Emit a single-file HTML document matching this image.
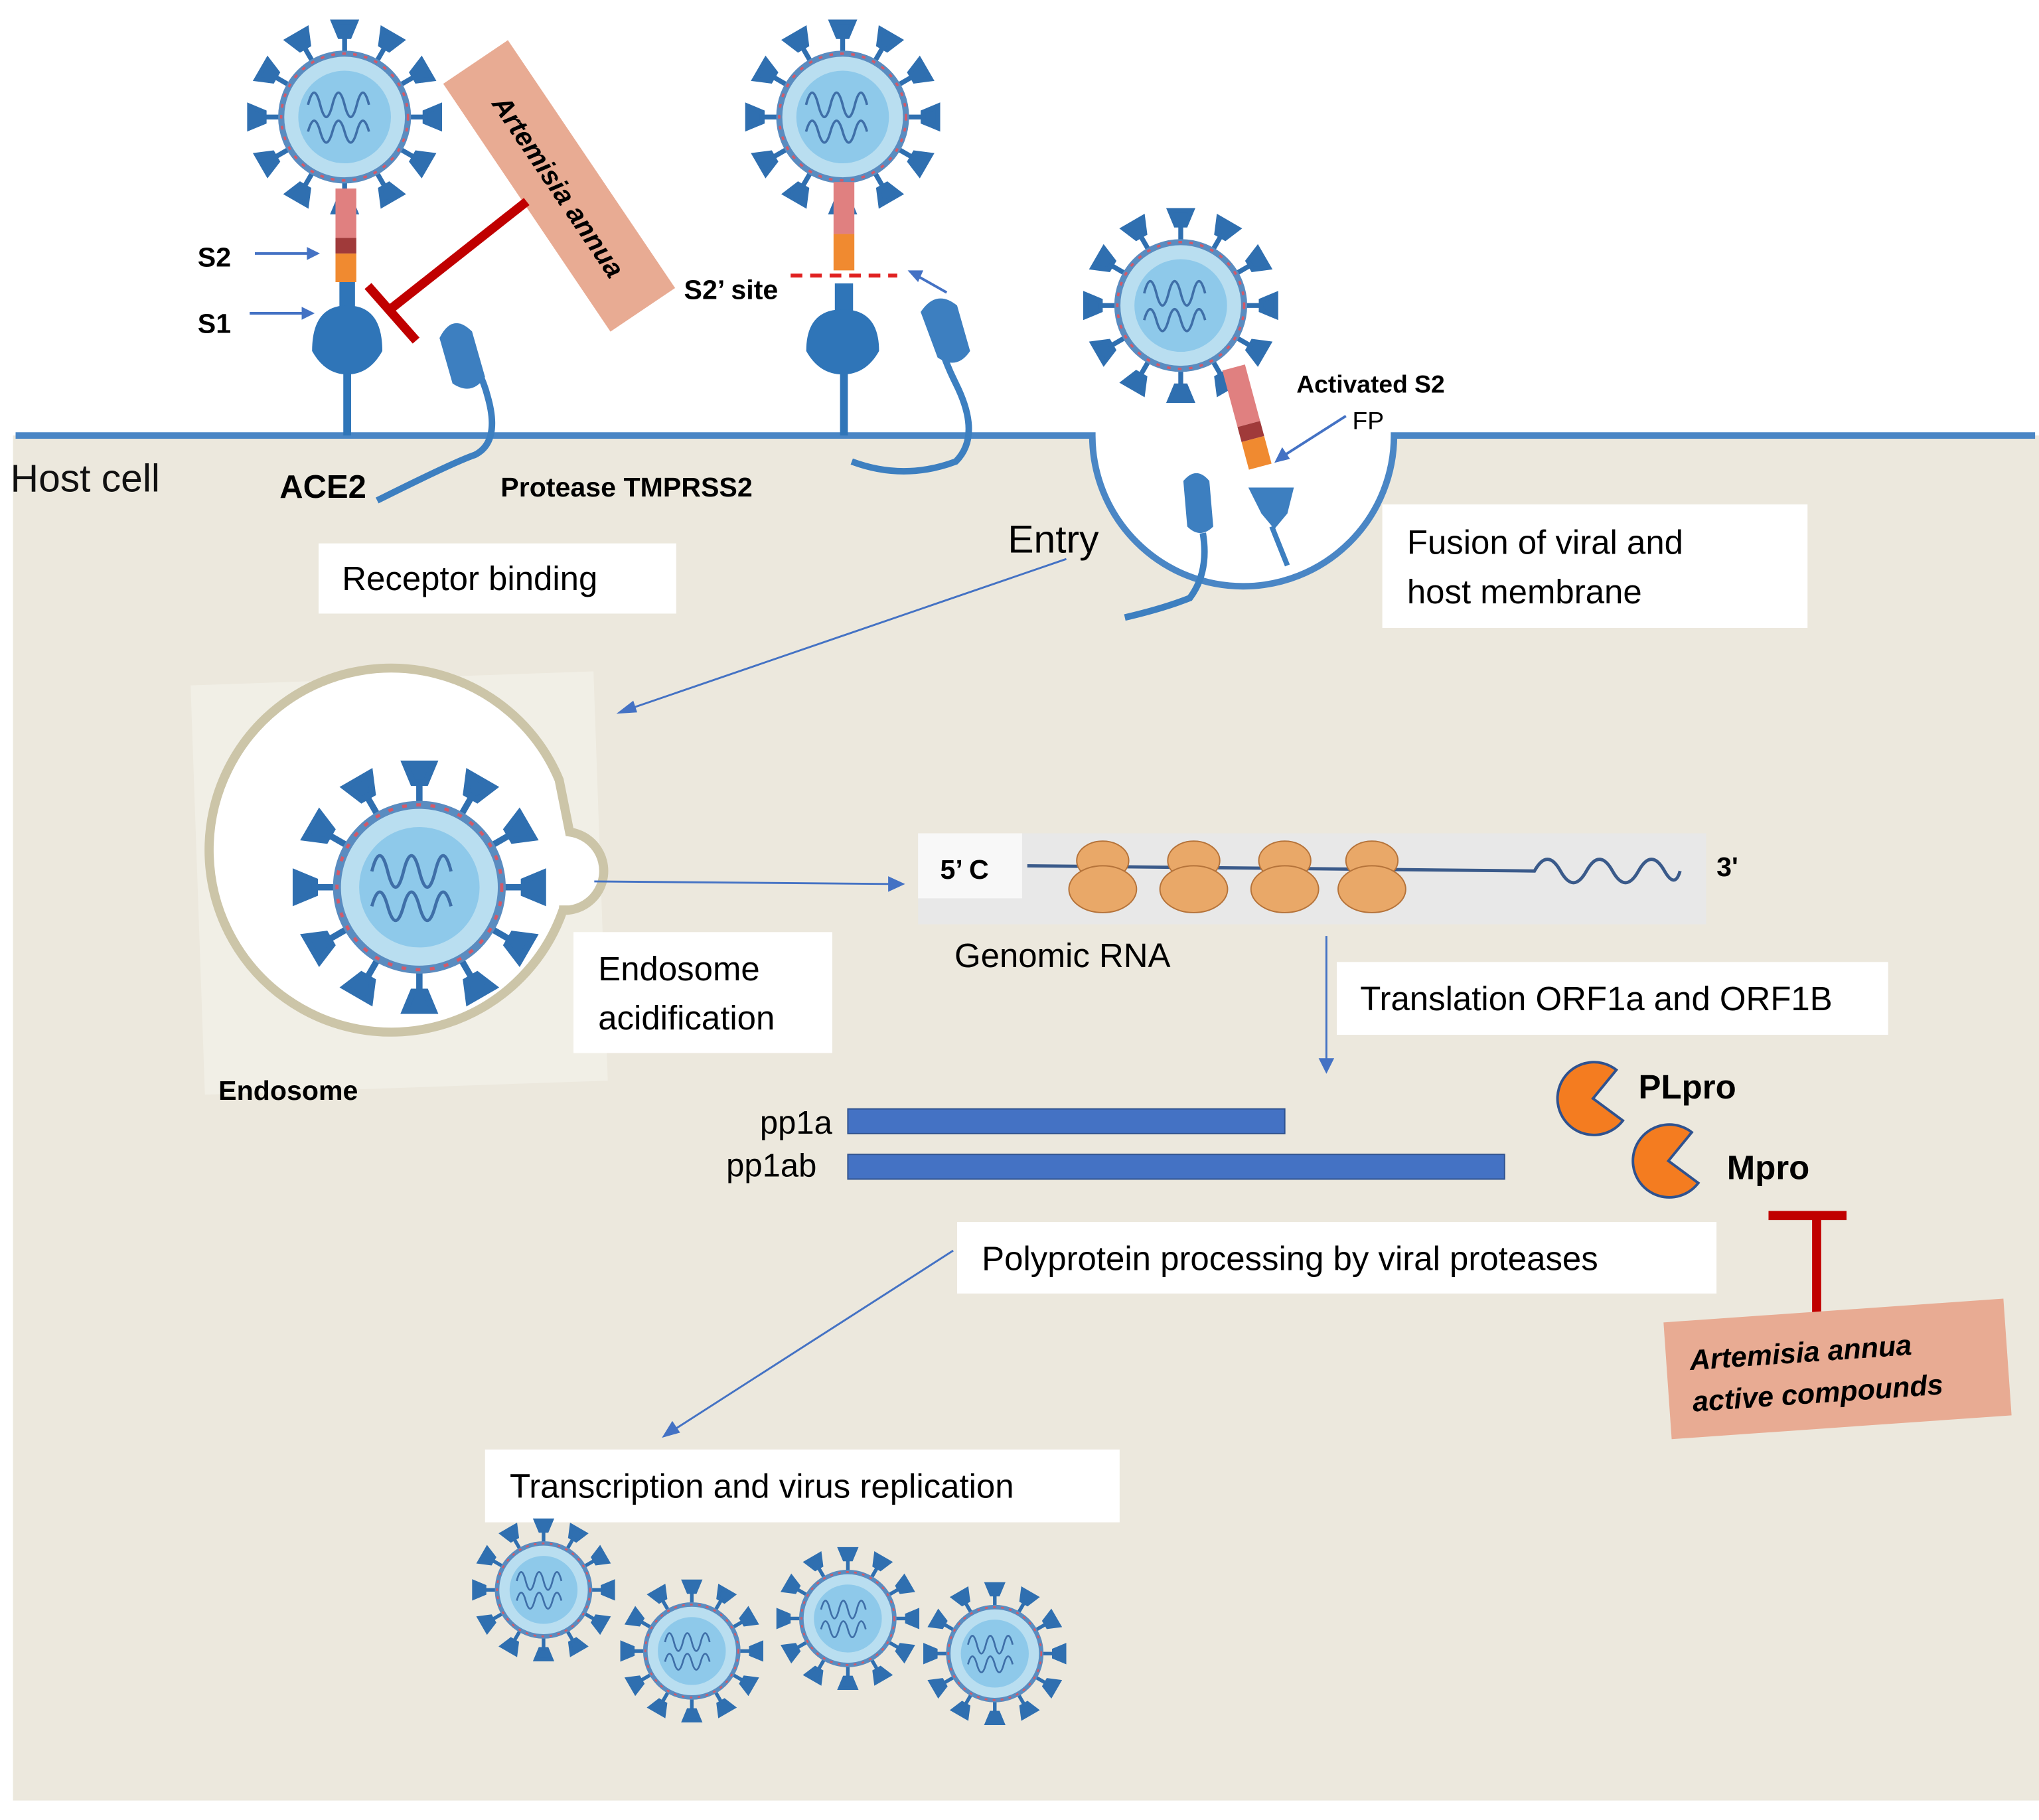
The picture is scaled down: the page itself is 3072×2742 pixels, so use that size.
<!DOCTYPE html>
<html><head><meta charset="utf-8"><style>
html,body{margin:0;padding:0;background:#fff}
svg{display:block}
text{font-family:"Liberation Sans","DejaVu Sans",sans-serif}
</style></head><body>
<svg width="3072" height="2742" viewBox="0 0 1568 1400" preserveAspectRatio="none" xmlns="http://www.w3.org/2000/svg">
<defs>
<symbol id="v" viewBox="-80 -80 160 160">
  <g stroke="#2f6fb0" stroke-width="4" fill="#2f6fb0">
    <g id="sp"><line x1="0" y1="-52" x2="0" y2="-70"/><path d="M-9 -78 L9 -78 L4 -66 L-4 -66Z"/></g>
    <use href="#sp" transform="rotate(30)"/><use href="#sp" transform="rotate(60)"/><use href="#sp" transform="rotate(90)"/>
    <use href="#sp" transform="rotate(120)"/><use href="#sp" transform="rotate(150)"/><use href="#sp" transform="rotate(180)"/>
    <use href="#sp" transform="rotate(210)"/><use href="#sp" transform="rotate(240)"/><use href="#sp" transform="rotate(270)"/>
    <use href="#sp" transform="rotate(300)"/><use href="#sp" transform="rotate(330)"/>
  </g>
  <circle r="52" fill="#b9def0" stroke="#5a8cc0" stroke-width="5"/>
  <circle r="52" fill="none" stroke="#d25a6a" stroke-width="2" stroke-dasharray="3 6"/>
  <circle r="38" fill="#8ec9ea"/>
  <path d="M-30 -10 q5 -20 10 0 q5 20 10 0 q5 -20 10 0 q5 20 10 0 q5 -20 10 0 M-30 12 q5 -18 10 0 q5 18 10 0 q5 -18 10 0 q5 18 10 0 q5 -18 10 0" stroke="#3f6fa8" stroke-width="2" fill="none"/>
</symbol>
</defs>
<rect width="1568" height="1400" fill="#fff"/>
<!-- cell background -->
<path d="M10 335 L840 335 A116 116 0 0 0 1072 335 L1568 335 L1568 1385 L10 1385Z" fill="#ece8dd"/>
<path d="M12 335 L840 335 A116 116 0 0 0 1072 335 L1565 335" fill="none" stroke="#4a86c5" stroke-width="5"/>
<text x="8" y="378" font-size="30" fill="#111">Host cell</text>

<!-- virus 1 -->
<use href="#v" x="190" y="15" width="150" height="150"/>
<rect x="258" y="145" width="16" height="38" fill="#e08080"/><rect x="258" y="183" width="16" height="12" fill="#a03a3a"/><rect x="258" y="195" width="16" height="22" fill="#f08a30"/>
<rect x="261" y="217" width="12" height="22" fill="#2f75b8"/>
<path d="M240 270 q0-35 27-35 q27 0 27 35 q-10 18-27 18 q-17 0-27-18Z" fill="#2f75b8"/>
<rect x="264" y="285" width="6" height="50" fill="#2f75b8"/>
<path d="M290 385 q60 -30 75 -35 q20 -10 10 -45 q-5 -20 -20 -40" fill="none" stroke="#3d7fc0" stroke-width="5"/>
<path d="M338 260 q10 -20 25 -5 l10 35 q-10 15 -25 5Z" fill="#3d7fc0"/>
<text x="152" y="205" font-size="21" font-weight="bold">S2</text>
<text x="152" y="256" font-size="21" font-weight="bold">S1</text>
<path d="M196 195 L238 195 M192 241 L234 241" stroke="#4472c4" stroke-width="2"/>
<path d="M246 195 l-10 -5 0 10Z M242 241 l-10 -5 0 10Z" fill="#4472c4"/>
<text x="215" y="383" font-size="25" font-weight="bold">ACE2</text>
<text x="385" y="382" font-size="21" font-weight="bold">Protease TMPRSS2</text>

<!-- artemisia box 1 -->
<g transform="translate(430,143) rotate(56)">
<rect x="-115" y="-30" width="230" height="60" fill="#e8ab93"/>
<text x="0" y="8" font-size="21" font-weight="bold" font-style="italic" text-anchor="middle">Artemisia annua</text>
</g>
<path d="M405 155 L300 238" stroke="#c00000" stroke-width="7"/>
<path d="M283 220 L320 262" stroke="#c00000" stroke-width="7"/>

<!-- virus 2 -->
<use href="#v" x="573" y="15" width="150" height="150"/>
<rect x="641" y="140" width="16" height="40" fill="#e08080"/><rect x="641" y="180" width="16" height="28" fill="#f08a30"/>
<path d="M608 212 L690 212" stroke="#e02020" stroke-width="3" stroke-dasharray="9 6"/>
<text x="526" y="230" font-size="21" font-weight="bold">S2’ site</text>
<rect x="642" y="218" width="14" height="25" fill="#2f75b8"/>
<path d="M620 270 q0-32 28-32 q28 0 28 32 q-10 18-28 18 q-18 0-28-18Z" fill="#2f75b8"/>
<rect x="646" y="285" width="6" height="50" fill="#2f75b8"/>
<path d="M655 355 q40 15 80 0 q20 -20 0 -60 q-10 -20 -15 -40" fill="none" stroke="#3d7fc0" stroke-width="5"/>
<path d="M708 240 q12 -18 28 -5 l10 35 q-10 15 -25 5Z" fill="#3d7fc0"/>
<path d="M728 225 L705 212" stroke="#4472c4" stroke-width="2"/><path d="M698 208 l12 0 -4 9Z" fill="#4472c4"/>

<!-- virus 3 -->
<use href="#v" x="833" y="160" width="150" height="150"/>
<g transform="translate(940,285) rotate(-15)"><rect x="0" y="0" width="18" height="45" fill="#e08080"/><rect y="45" width="18" height="12" fill="#a03a3a"/><rect y="57" width="18" height="22" fill="#f08a30"/></g>
<text x="997" y="302" font-size="19" font-weight="bold">Activated S2</text>
<text x="1040" y="330" font-size="19">FP</text>
<path d="M1035 320 L988 350" stroke="#4472c4" stroke-width="2"/><path d="M980 356 l6 -12 6 9Z" fill="#4472c4"/>
<path d="M960 375 l35 0 -5 20 -10 12 -10 -12Z" fill="#3d7fc0"/><path d="M978 405 L990 435" stroke="#3d7fc0" stroke-width="4"/>
<path d="M910 370 q10 -12 20 0 l3 35 q-10 10 -20 0Z" fill="#3d7fc0"/>
<path d="M925 410 q5 30 -10 50 q-20 8 -50 15" fill="none" stroke="#3d7fc0" stroke-width="5"/>
<text x="775" y="425" font-size="30">Entry</text>
<path d="M820 430 L485 545" stroke="#4472c4" stroke-width="1.5"/><path d="M474 549 l13 -10 3 9Z" fill="#4472c4"/>

<!-- boxes -->
<rect x="245" y="418" width="275" height="54" fill="#fff"/><text x="263" y="454" font-size="26">Receptor binding</text>
<rect x="1063" y="388" width="327" height="95" fill="#fff"/><text x="1082" y="426" font-size="26">Fusion of viral and</text><text x="1082" y="464" font-size="26">host membrane</text>

<!-- endosome -->
<rect x="152" y="522" width="310" height="315" fill="#f1efe6" transform="rotate(-2 300 680)"/>
<path d="M433 700 A140 140 0 1 1 430 600 L438 640 A12 12 0 0 1 430 700 Z" fill="#fff" stroke="#ccc5a8" stroke-width="7"/>
<use href="#v" x="225" y="585" width="195" height="195"/>
<text x="168" y="846" font-size="21" font-weight="bold">Endosome</text>
<rect x="441" y="717" width="199" height="93" fill="#fff"/><text x="460" y="754" font-size="26">Endosome</text><text x="460" y="792" font-size="26">acidification</text>
<path d="M457 678 L685 680" stroke="#4472c4" stroke-width="1.5"/><path d="M696 680 l-13 -6 0 12Z" fill="#4472c4"/>

<!-- genomic RNA -->
<rect x="706" y="641" width="606" height="70" fill="#e8e8e8"/>
<rect x="706" y="641" width="80" height="50" fill="#f8f8f8"/>
<text x="723" y="676" font-size="21" font-weight="bold">5’ C</text>
<path d="M790 666 L1180 670 q10 -18 20 0 q10 18 20 0 q10 -18 20 0 q10 18 20 0 q10 -18 20 0 q8 14 12 0" fill="none" stroke="#3a5a8a" stroke-width="2.5"/>
<g fill="#e9a868" stroke="#b5733a" stroke-width="1">
<ellipse cx="848" cy="662" rx="20" ry="15"/><ellipse cx="848" cy="684" rx="26" ry="18"/>
<ellipse cx="918" cy="662" rx="20" ry="15"/><ellipse cx="918" cy="684" rx="26" ry="18"/>
<ellipse cx="988" cy="662" rx="20" ry="15"/><ellipse cx="988" cy="684" rx="26" ry="18"/>
<ellipse cx="1055" cy="662" rx="20" ry="15"/><ellipse cx="1055" cy="684" rx="26" ry="18"/>
</g>
<text x="1320" y="674" font-size="21" font-weight="bold">3'</text>
<text x="734" y="744" font-size="26">Genomic RNA</text>
<path d="M1020 720 L1020 815" stroke="#4472c4" stroke-width="1.5"/><path d="M1020 826 l-6 -12 12 0Z" fill="#4472c4"/>
<rect x="1028" y="740" width="424" height="56" fill="#fff"/><text x="1046" y="777" font-size="26">Translation ORF1a and ORF1B</text>

<!-- polyproteins -->
<text x="640" y="872" font-size="25" text-anchor="end">pp1a</text>
<text x="628" y="905" font-size="25" text-anchor="end">pp1ab</text>
<rect x="652" y="853" width="336" height="19" fill="#4472c4" stroke="#2f528f"/>
<rect x="652" y="888" width="505" height="19" fill="#4472c4" stroke="#2f528f"/>
<path d="M1225 845 L1243 823 A28 28 0 1 0 1248 862 Z" fill="#f47c20" stroke="#2f528f" stroke-width="2"/>
<text x="1260" y="845" font-size="26" font-weight="bold">PLpro</text>
<path d="M1283 893 L1301 871 A28 28 0 1 0 1306 910 Z" fill="#f47c20" stroke="#2f528f" stroke-width="2"/>
<text x="1328" y="907" font-size="26" font-weight="bold">Mpro</text>
<path d="M1397 935 L1397 1012" stroke="#c00000" stroke-width="7"/><path d="M1360 935 L1420 935" stroke="#c00000" stroke-width="7"/>
<g transform="rotate(-4 1413 1052)">
<rect x="1282" y="1008" width="262" height="90" fill="#e8ab93"/>
<text x="1300" y="1046" font-size="22" font-weight="bold" font-style="italic">Artemisia annua</text>
<text x="1300" y="1078" font-size="22" font-weight="bold" font-style="italic">active compounds</text>
</g>

<rect x="736" y="940" width="584" height="55" fill="#fff"/><text x="755" y="977" font-size="26">Polyprotein processing by viral proteases</text>
<path d="M733 962 L518 1100" stroke="#4472c4" stroke-width="1.5"/><path d="M509 1106 l8 -13 6 9Z" fill="#4472c4"/>
<rect x="373" y="1115" width="488" height="56" fill="#fff"/><text x="392" y="1152" font-size="26">Transcription and virus replication</text>

<use href="#v" x="363" y="1168" width="110" height="110"/>
<use href="#v" x="477" y="1215" width="110" height="110"/>
<use href="#v" x="597" y="1190" width="110" height="110"/>
<use href="#v" x="710" y="1217" width="110" height="110"/>
</svg>
</body></html>
